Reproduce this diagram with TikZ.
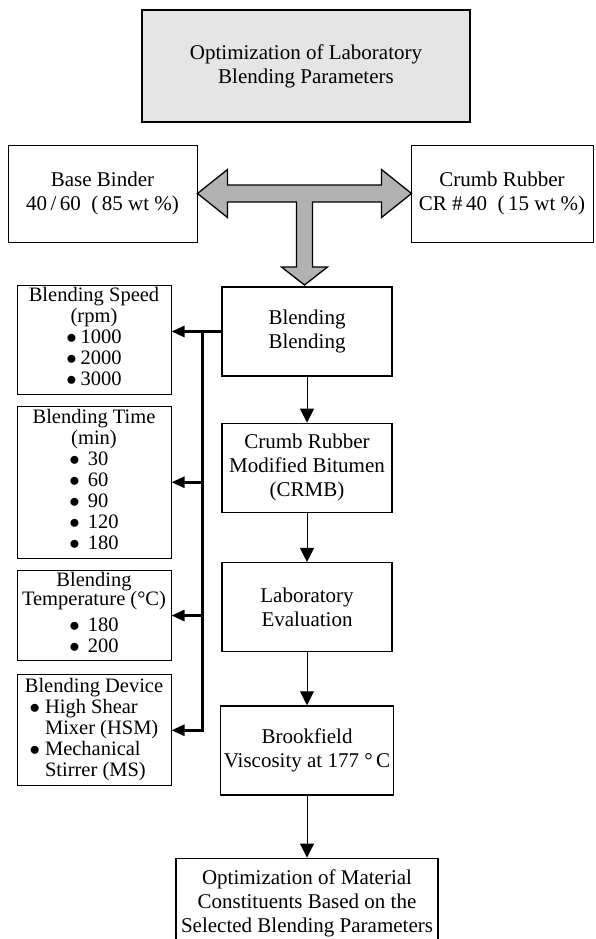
\documentclass[tikz,border=0pt]{standalone}
\usepackage{fontspec}
\setmainfont{Liberation Serif}
\usetikzlibrary{arrows.meta,positioning}

\begin{document}
\begin{tikzpicture}[every node/.style={font=\fontsize{21}{24}\selectfont,align=center,inner sep=3pt},
                    title node/.style={draw,line width=1.8pt,fill=gray!20,minimum width=328pt,minimum height=112pt},
                    side node/.style={draw,line width=1pt,minimum height=97pt},
                    main node/.style={draw,line width=1.3pt,minimum width=170pt,minimum height=89pt},
                    param node/.style={draw,line width=1pt,minimum width=154pt,inner sep=2pt,font=\fontsize{20.5}{21}\selectfont},
                    big arrow/.style={draw,line width=1.3pt,fill=gray!60,line join=miter},
                    flow/.style={-{Triangle[length=14pt,width=14pt]},line width=1pt},
                    bus/.style={-{Triangle[length=13pt,width=11pt]},line width=2.6pt}]

  \useasboundingbox (0pt,0pt) rectangle (596pt,-939pt);

  \node[title node] (top) at (306pt,-66pt) {Optimization of Laboratory\\Blending Parameters};
  \node[side node,minimum width=189pt] (base) at (102.5pt,-193.5pt) {Base Binder\\40\,/\,60\ \ (\,85 wt \%)};
  \node[side node,minimum width=182pt] (crumb) at (502pt,-193.5pt) {Crumb Rubber\\CR \#\,40\ \ (\,15 wt \%)};

  % mixing arrow: both ingredients meet and go down
  \draw[big arrow] (base.east) -- ++(30pt,24pt) -- ++(0,-15.5pt) -- ++(154pt,0) -- ++(0,15.5pt)
    -- ++(30pt,-24pt) -- ++(-30pt,-24pt) -- ++(0,15.5pt) -- ++(-69pt,0) -- ++(0,-65pt)
    -- ++(15pt,0) -- ++(-23pt,-18pt) -- ++(-23pt,18pt) -- ++(15pt,0) -- ++(0,65pt)
    -- ++(-69pt,0) -- ++(0,-15.5pt) -- cycle;

  \node[main node] (blend) at (307pt,-331.5pt) {Blending\\Blending};
  \node[main node] (crmb) [below=46pt of blend] {Crumb Rubber\\Modified Bitumen\\(CRMB)};
  \node[main node] (lab) [below=49pt of crmb] {Laboratory\\Evaluation};
  \node[main node] (brook) [below=53pt of lab] {Brookfield\\Viscosity at 177 °\,C};
  \node[main node,minimum width=262pt,minimum height=90pt] (final) [below=62pt of brook]
    {Optimization of Material\\Constituents Based on the\\Selected Blending Parameters};

  \node[param node,minimum height=106pt] (speed) at (94pt,-340pt)
    {Blending Speed\\(rpm)\\\begin{tabular}[t]{@{}c@{\hspace{4pt}}l@{}}$\bullet$&1000\\$\bullet$&2000\\$\bullet$&3000\end{tabular}};
  \node[param node,minimum height=152pt] (time) [below=11pt of speed]
    {Blending Time\\(min)\\\begin{tabular}[t]{@{}c@{\hspace{8pt}}l@{}}$\bullet$&30\\$\bullet$&60\\$\bullet$&90\\$\bullet$&120\\$\bullet$&180\end{tabular}};
  \node[param node,minimum height=90pt] (temp) [below=11pt of time]
    {Blending\\[-2pt]Temperature (°C)\\[5pt]\begin{tabular}[t]{@{}c@{\hspace{8pt}}l@{}}$\bullet$&180\\$\bullet$&200\end{tabular}};
  \node[param node,minimum height=111pt] (device) [below=13pt of temp]
    {Blending Device\\\begin{tabular}[t]{@{}c@{\hspace{5pt}}l@{}}$\bullet$&High Shear\\&Mixer (HSM)\\$\bullet$&Mechanical\\&Stirrer (MS)\end{tabular}};

  \coordinate[left=19pt of blend.west] (bus);

  \draw[bus] (blend.west) -- (blend.west -| speed.east);
  \draw[bus] (bus) |- (device.east);
  \draw[bus] (bus |- time.east) -- (time.east);
  \draw[bus] (bus |- temp.east) -- (temp.east);

  \path[flow]
    (blend) edge (crmb)
    (crmb) edge (lab)
    (lab) edge (brook)
    (brook) edge (final);
\end{tikzpicture}
\end{document}
